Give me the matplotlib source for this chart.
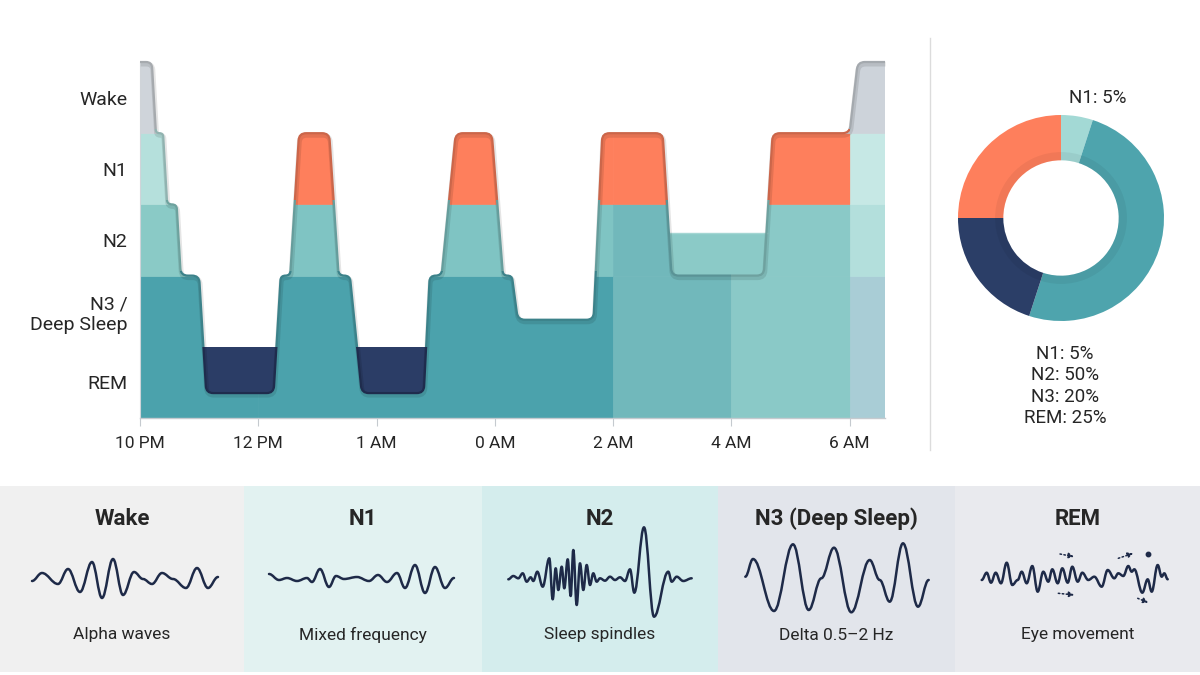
import numpy as np
import matplotlib
matplotlib.use("Agg")
import matplotlib.pyplot as plt
from matplotlib.path import Path
from matplotlib.patches import PathPatch, Rectangle, Wedge
from matplotlib.lines import Line2D
from matplotlib.colors import to_rgb
import matplotlib.patheffects as pe

plt.rcParams['font.family'] = ['Roboto', 'DejaVu Sans']

# ---------------- data ----------------
x_tick_pos = [0, 1, 2, 3, 4, 5, 6]
x_tick_labels = ["10 PM", "12 PM", "1 AM", "0 AM", "2 AM", "4 AM", "6 AM"]
stage_levels = [0, 1, 2, 3, 4]
stage_names = ["REM", "N3 /\nDeep Sleep", "N2", "N1", "Wake"]

# hypnogram plateaus (time position, height on stage scale)
seg_start = [0.00, 0.135, 0.23, 0.345, 0.56, 1.19, 1.345, 1.68, 1.875, 2.45, 2.67, 3.07, 3.195, 3.91, 4.495, 5.35, 6.07]
seg_end   = [0.10, 0.195, 0.31, 0.50, 1.13, 1.27, 1.60, 1.775, 2.40, 2.55, 2.975, 3.145, 3.835, 4.42, 5.275, 6.00, 6.30]
seg_level = [4.5, 3.5, 2.5, 1.5, -0.15, 1.5, 3.5, 1.5, -0.15, 1.5, 3.5, 1.5, 0.88, 3.5, 1.5, 3.5, 4.5]

plateau_start, plateau_end, plateau_level = 4.42, 5.36, 2.1

donut_names = ["N1", "N2", "N3", "REM"]
donut_values = [5, 50, 20, 25]
donut_colors = ['#a3d9d5', '#4ea4ad', '#2b3e67', '#fe7f5c']

panel_titles = ["Wake", "N1", "N2", "N3 (Deep Sleep)", "REM"]
panel_notes = ["Alpha waves", "Mixed frequency", "Sleep spindles", "Delta 0.5\u20132 Hz", "Eye movement"]

wake_wx = [-90, -80, -64, -54, -42, -30, -20, -9, 1, 12, 21, 30, 40, 51, 64, 75, 86, 96]
wake_wy = [-3, 5, -6, 9, -14, 16, -20, 19, -17, 6, -1, -6, 5, -1, -10, 10, -10, 1]

n1_wx = [-94, -84, -76, -66, -56, -51, -43, -34, -27, -19, -6, 6, 15, 24, 34, 42, 52, 62, 72, 82, 91]
n1_wy = [4, -2, 0, -3, 0, -4, 9, -9, 2, -1, 1, -3, 3, -4, 5, -10, 13, -15, 11, -10, 0]

n2_wx = [-91.7, -86.7, -81.7, -77.3, -73.3, -69.3, -66.7, -62.7, -57.3, -50.7, -47.3, -44.3, -41.7, -38.3,
         -35.7, -32.3, -29.3, -26.7, -23.3, -20, -16.7, -13.3, -10, -6.7, -3.3, 0, 5, 10, 15, 20, 25, 30,
         34.3, 44, 54, 68.3, 71.7, 76.7, 83.3, 91.7]
n2_wy = [-1.3, 2, -0.3, 4.7, -3.7, 0.7, -3, 6.3, -8.7, 19.7, -21.3, 9.7, -12, 11.3,
         -10.3, 18.7, -18, 28, -27, 14.7, -12, 13, -7, 4.7, -3.7, -0.3, -2.7, 1.3, -2, 0.7, -3, 8.7,
         -14.7, 50.7, -38.7, 6.3, -3.7, 1.3, -3, -0.3]

n3_wx = [-91.2, -83.5, -62.5, -43.5, -27.8, -15.2, -2.5, 14.8, 33.2, 43.2, 53.2, 66.5, 81.5, 92.2]
n3_wy = [1.3, 19, -33, 33.7, -32, -0.3, 30.3, -34.3, 18, -2, -23.7, 34.7, -28.7, -2]

rem_wx = [-95.8, -90.8, -86.5, -81.8, -76.5, -70.8, -65.2, -59.8, -55.8, -50.8, -45.2, -39.8, -34.2, -29.2,
          -25.2, -19.8, -15.2, -9.8, -5.2, 0.2, 4.8, 10.8, 16.8, 24.2, 30.2, 36.8, 40.8, 45.8, 50.8, 54.2,
          56.8, 64.8, 70.2, 74.2, 80.2, 84.2, 86.8, 90.2]
rem_wy = [-2, 5.3, -4.7, 5.3, -5.3, 15.3, -7, -2, 6.3, -5.3, 12, -13.7, 6.3, -3.7,
          8.7, -5.3, 9.7, -4.7, 11.3, -3.7, 5.3, -2, 1.3, -8.7, 8, -0.3, 4.7, 2, 12, 6.3,
          8.7, -14.7, -1.3, -13.7, 13, 1.3, 4.7, -1.3]

rem_arrows = [((-17.5, 24), (-3.5, 21.3)), ((-19.2, -15.3), (-3.2, -17)),
              ((40.8, 19.7), (55.8, 24.7)), ((60.2, -20.3), (70.8, -24.7))]
rem_dot = (70.8, 24)

wave_x = [wake_wx, n1_wx, n2_wx, n3_wx, rem_wx]
wave_y = [wake_wy, n1_wy, n2_wy, n3_wy, rem_wy]

# ---------------- styling ----------------
W, H = 1200, 675
TXT = '#262626'
WAVE = '#1e2a48'


def fx(px):
    return px / W


def fy(py):
    return 1 - py / H


def darker(c, f=0.82):
    r, g, b = to_rgb(c)
    return (r * f, g * f, b * f)


fig = plt.figure(figsize=(12, 6.75), dpi=100)
fig.patch.set_facecolor('white')

# overlay axes in pixel coordinates for bottom panels
axb = fig.add_axes([0, 0, 1, 1], zorder=0)
axb.set_xlim(0, W)
axb.set_ylim(H, 0)
axb.axis('off')

# ---------------- hypnogram ----------------
ax = fig.add_axes([fx(140), fy(418), 745 / W, 356 / H], zorder=2)
ax.set_xlim(0, 6.3)
ax.set_ylim(-0.5, 4.5)
ax.patch.set_alpha(0)

xs, ys = [], []
for s, e, l in zip(seg_start, seg_end, seg_level):
    xs += [s, e]
    ys += [l, l]


def rounded(xs, ys, r=7.0):
    P = ax.transData.transform(np.column_stack([xs, ys]))
    verts = [P[0]]
    codes = [Path.MOVETO]
    for i in range(1, len(P) - 1):
        a, b, c = P[i - 1], P[i], P[i + 1]
        d1 = b - a
        d2 = c - b
        l1 = np.hypot(*d1)
        l2 = np.hypot(*d2)
        if l1 < 1e-9 or l2 < 1e-9:
            verts.append(b)
            codes.append(Path.LINETO)
            continue
        rr = min(r, l1 / 2, l2 / 2)
        verts += [b - d1 / l1 * rr, b, b + d2 / l2 * rr]
        codes += [Path.LINETO, Path.CURVE3, Path.CURVE3]
    verts.append(P[-1])
    codes.append(Path.LINETO)
    V = ax.transData.inverted().transform(np.array(verts))
    return V, codes


V, codes = rounded(xs, ys)
x0, x1 = 0.0, 6.3
below_path = Path(np.vstack([V, [[x1, -0.5], [x0, -0.5], [x0, -0.5]]]),
                  codes + [Path.LINETO, Path.LINETO, Path.CLOSEPOLY])
above_path = Path(np.vstack([V, [[x1, 4.8], [x0, 4.8], [x0, 4.8]]]),
                  codes + [Path.LINETO, Path.LINETO, Path.CLOSEPOLY])
below_clip = PathPatch(below_path, transform=ax.transData, fc='none', ec='none')
above_clip = PathPatch(above_path, transform=ax.transData, fc='none', ec='none')
ax.add_patch(below_clip)
ax.add_patch(above_clip)

col_edges = [0, 1, 4, 5, 6, 6.3]
band_edges = [-0.5, 1.5, 2.5, 3.5, 4.5]
fill_colors = [
    ['#4ba2ac', '#8acac6', '#b5e0dc', '#cfd4da'],
    ['#4ba2ac', '#7fc4c3', '#fe7f5c', '#cfd4da'],
    ['#71b8bb', '#71b8bb', '#fe7f5c', '#cfd4da'],
    ['#8ac9c7', '#8ac9c7', '#fe7f5c', '#cfd4da'],
    ['#a9cdd6', '#b3dfdc', '#c6e8e5', '#cdd3da'],
]
for ci in range(len(col_edges) - 1):
    for bi in range(len(band_edges) - 1):
        c = fill_colors[ci][bi]
        r = Rectangle((col_edges[ci], band_edges[bi]), col_edges[ci + 1] - col_edges[ci],
                      band_edges[bi + 1] - band_edges[bi], fc=c, ec=c, lw=0.5, zorder=1)
        ax.add_patch(r)
        r.set_clip_path(below_clip)

# REM boxes (navy) above the curve, below the REM band top
for s, e, l in zip(seg_start, seg_end, seg_level):
    if l < 0.5:
        r = Rectangle((s - 0.12, -0.5), (e - s) + 0.24, 1.0, fc='#2b3d66', ec='none', zorder=1)
        ax.add_patch(r)
        r.set_clip_path(above_clip)

# light N2 plateau between 2 AM and 5 AM
r = Rectangle((plateau_start, 1.5), plateau_end - plateau_start, plateau_level - 1.5,
              fc='#8bcac7', ec='none', zorder=1)
ax.add_patch(r)
r.set_clip_path(above_clip)
ax.plot([plateau_start + 0.06, plateau_end - 0.06], [plateau_level, plateau_level],
        color='#a4d6d3', lw=1.0, zorder=1.5)

# outline, coloured per cell (column x band)
line_path = Path(V, codes)
outline_bands = [(-0.7, 0.5), (0.5, 1.56), (1.56, 2.56), (2.56, 3.56), (3.56, 4.7)]
for ci in range(len(col_edges) - 1):
    for bi, (lo, hi) in enumerate(outline_bands):
        if bi == 0:
            col = '#1f2c4d'
        else:
            col = darker(fill_colors[ci][bi - 1], 0.8)
        pp = PathPatch(line_path, fill=False, ec=col, lw=1.6, transform=ax.transData, zorder=3,
                       capstyle='butt',
                       path_effects=[pe.SimpleLineShadow(offset=(0.5, -1.5), alpha=0.10, linewidth=3.5),
                                     pe.Normal()])
        ax.add_patch(pp)
        xa = col_edges[ci] if ci > 0 else -0.2
        xb = col_edges[ci + 1] if ci < len(col_edges) - 2 else 6.5
        cr = Rectangle((xa, lo), xb - xa, hi - lo, transform=ax.transData)
        pp.set_clip_path(cr)

ax.set_xticks(x_tick_pos, x_tick_labels)
ax.set_yticks(stage_levels, stage_names)
ax.tick_params(axis='x', length=6, color='#c5cacf', labelsize=12.5, pad=7, labelcolor=TXT)
ax.tick_params(axis='y', length=0, labelsize=14, pad=9, labelcolor=TXT)
for sp in ['top', 'right']:
    ax.spines[sp].set_visible(False)
ax.spines['left'].set_color('#d0d4d9')
ax.spines['bottom'].set_color('#c5cacf')
ax.spines['left'].set_linewidth(0.8)
ax.spines['bottom'].set_linewidth(1.0)

# divider
fig.add_artist(Line2D([fx(930), fx(930)], [fy(38), fy(450)], color='#dcdcdc', lw=1))

# ---------------- donut ----------------
axd = fig.add_axes([fx(958), fy(321), 206 / W, 206 / H], zorder=2)
axd.pie(donut_values, colors=donut_colors, startangle=90, counterclock=False, radius=1,
        wedgeprops=dict(width=0.44, edgecolor='none'))
axd.add_patch(Wedge((0, 0), 0.64, 0, 360, width=0.08, fc='k', alpha=0.05, ec='none'))
axd.set_xlim(-1, 1)
axd.set_ylim(-1, 1)

fig.text(fx(1098), fy(98), f"{donut_names[0]}: {donut_values[0]}%", ha='center', va='center',
         fontsize=13.5, color=TXT)
fig.text(fx(1065), fy(386), "\n".join(f"{n}: {v}%" for n, v in zip(donut_names, donut_values)),
         ha='center', va='center', fontsize=13.5, color=TXT, linespacing=1.25)

# ---------------- bottom panels ----------------
panel_edges = [0, 244, 482, 718, 955, 1200]
panel_bg = ['#f0f0f0', '#e2f2f1', '#d4eded', '#e2e5eb', '#e9eaee']
PT, PB = 486, 672
WY = 578


def wave_path(xs, ys, k=0.38):
    verts = [(xs[0], ys[0])]
    cds = [Path.MOVETO]
    for i in range(len(xs) - 1):
        dx = xs[i + 1] - xs[i]
        verts += [(xs[i] + k * dx, ys[i]), (xs[i + 1] - k * dx, ys[i + 1]), (xs[i + 1], ys[i + 1])]
        cds += [Path.CURVE4] * 3
    return Path(verts, cds)


for i in range(5):
    a, b = panel_edges[i], panel_edges[i + 1]
    cx = (a + b) / 2
    axb.add_patch(Rectangle((a, PT), b - a, PB - PT, fc=panel_bg[i], ec='none', zorder=0))
    axb.text(cx, 519, panel_titles[i], ha='center', va='center', fontsize=16, fontweight='bold', color=TXT)
    axb.text(cx, 635, panel_notes[i], ha='center', va='center', fontsize=12.5, color=TXT)
    px = [cx + v for v in wave_x[i]]
    py = [WY - v for v in wave_y[i]]
    axb.add_patch(PathPatch(wave_path(px, py), fill=False, ec=WAVE, lw=1.8, zorder=2,
                            capstyle='round', joinstyle='round'))

cx_rem = (panel_edges[4] + panel_edges[5]) / 2
for (sx, sy), (ex, ey) in rem_arrows:
    axb.annotate('', xy=(cx_rem + ex, WY - ey), xytext=(cx_rem + sx, WY - sy),
                 arrowprops=dict(arrowstyle='-|>', linestyle=(0, (1, 1.6)), color=WAVE, lw=1.1,
                                 mutation_scale=8, shrinkA=0, shrinkB=0))
axb.plot([cx_rem + rem_dot[0]], [WY - rem_dot[1]], 'o', ms=3.2, color=WAVE)

fig.savefig('out.png', dpi=100, facecolor='white')
